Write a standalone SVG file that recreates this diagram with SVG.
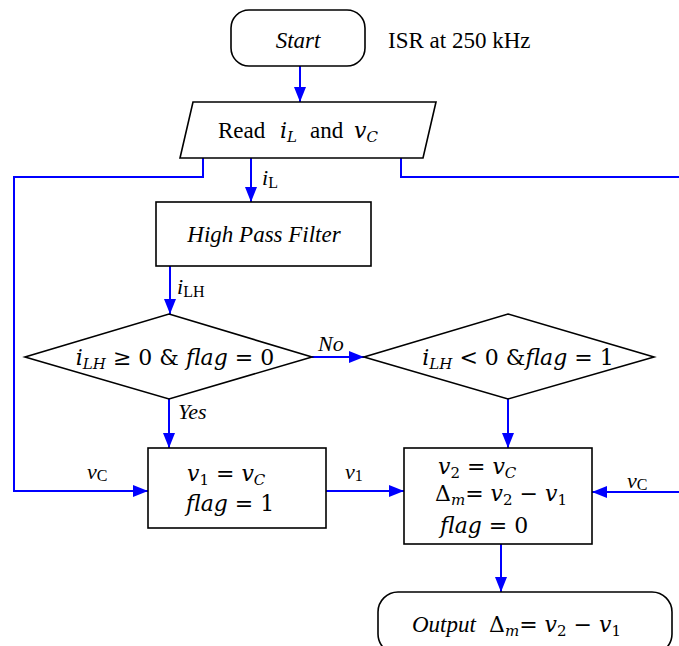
<svg xmlns="http://www.w3.org/2000/svg" width="679" height="646" viewBox="0 0 679 646">
<style>
.shape{fill:#fff;stroke:#000;stroke-width:1.6}
.conn{fill:none;stroke:#0000ff;stroke-width:2}
.t{font-family:"Liberation Serif","Times New Roman",serif;font-size:23px;fill:#000}
.it{font-style:italic}
.m{font-family:"DejaVu Serif","Liberation Serif",serif;font-size:22px;fill:#000}
.lb{font-family:"Liberation Serif","Times New Roman",serif;font-size:22px;fill:#000}
</style>
<defs>
<marker id="ah" markerUnits="userSpaceOnUse" markerWidth="15" markerHeight="12" refX="15" refY="6" orient="auto">
<path d="M0,0 L15,6 L0,12 z" fill="#0000ff"/>
</marker>
</defs>
<g id="connectors">
<path class="conn" d="M300,66 V102" marker-end="url(#ah)"/>
<path class="conn" d="M251,158 V202" marker-end="url(#ah)"/>
<path class="conn" d="M170,266 V314" marker-end="url(#ah)"/>
<path class="conn" d="M312,357 H364" marker-end="url(#ah)"/>
<path class="conn" d="M169,399 V448" marker-end="url(#ah)"/>
<path class="conn" d="M508,399 V448" marker-end="url(#ah)"/>
<path class="conn" d="M326,491 H404" marker-end="url(#ah)"/>
<path class="conn" d="M203,158 V177 H14 V491 H148" marker-end="url(#ah)"/>
<path class="conn" d="M401,158 V177 H690 V492 H592" marker-end="url(#ah)"/>
<path class="conn" d="M501,544 V592" marker-end="url(#ah)"/>
<text class="lb" x="262" y="185"><tspan class="it">i</tspan><tspan font-size="16" dy="3">L</tspan></text>
<text class="lb" x="177" y="294"><tspan class="it">i</tspan><tspan font-size="16" dy="3">LH</tspan></text>
<text class="lb it" x="318" y="351">No</text>
<text class="lb it" x="178" y="419">Yes</text>
<text class="lb" x="87" y="479"><tspan class="it">v</tspan><tspan font-size="16" dy="2">C</tspan></text>
<text class="lb" x="345" y="479"><tspan class="it">v</tspan><tspan font-size="16" dy="2">1</tspan></text>
<text class="lb" x="627" y="488"><tspan class="it">v</tspan><tspan font-size="16" dy="2">C</tspan></text>
</g>
<g id="start">
<rect class="shape" x="231" y="10" width="134" height="56" rx="18"/>
<text class="t it" x="298" y="48" text-anchor="middle">Start</text>
</g>
<text class="t" x="388" y="48">ISR at 250 kHz</text>
<g id="read">
<polygon class="shape" points="193,102 436,102 423,158 180,158"/>
<text class="t" x="218" y="138">Read</text>
<text class="m" x="280" y="138"><tspan font-style="italic">i</tspan><tspan font-style="italic" font-size="15" dy="4">L</tspan></text>
<text class="t" x="310" y="138">and</text>
<text class="m" x="354" y="138"><tspan font-style="italic">v</tspan><tspan font-style="italic" font-size="15" dy="4">C</tspan></text>
</g>
<g id="hpf">
<rect class="shape" x="156" y="202" width="215" height="64"/>
<text class="t it" x="264" y="242" text-anchor="middle">High Pass Filter</text>
</g>
<g id="cond1">
<polygon class="shape" points="169,314 312,357 169,399 25,357"/>
<text class="m" x="175" y="365" text-anchor="middle"><tspan font-style="italic">i</tspan><tspan font-style="italic" font-size="15" dy="4">LH</tspan><tspan dy="-4"> ≥ 0  &amp; </tspan><tspan font-style="italic">flag</tspan><tspan> = 0</tspan></text>
</g>
<g id="cond2">
<polygon class="shape" points="508,314 654,357 508,399 364,357"/>
<text class="m" x="518" y="365" text-anchor="middle"><tspan font-style="italic">i</tspan><tspan font-style="italic" font-size="15" dy="4">LH</tspan><tspan dy="-4"> &lt; 0  &amp;</tspan><tspan font-style="italic">flag</tspan><tspan> = 1</tspan></text>
</g>
<g id="set1">
<rect class="shape" x="148" y="448" width="178" height="80"/>
<text class="m" x="187" y="481"><tspan font-style="italic">v</tspan><tspan font-size="15" dy="4">1</tspan><tspan dy="-4"> = </tspan><tspan font-style="italic">v</tspan><tspan font-style="italic" font-size="15" dy="4">C</tspan></text>
<text class="m" x="186" y="511"><tspan font-style="italic">flag</tspan><tspan> = 1</tspan></text>
</g>
<g id="set2">
<rect class="shape" x="404" y="448" width="188" height="96"/>
<text class="m" x="438" y="474"><tspan font-style="italic">v</tspan><tspan font-size="15" dy="4">2</tspan><tspan dy="-4"> = </tspan><tspan font-style="italic">v</tspan><tspan font-style="italic" font-size="15" dy="4">C</tspan></text>
<text class="m" x="435" y="501"><tspan>Δ</tspan><tspan font-style="italic" font-size="15" dy="4">m</tspan><tspan dy="-4">= </tspan><tspan font-style="italic">v</tspan><tspan font-size="15" dy="4">2</tspan><tspan dy="-4"> − </tspan><tspan font-style="italic">v</tspan><tspan font-size="15" dy="4">1</tspan></text>
<text class="m" x="440" y="533"><tspan font-style="italic">flag</tspan><tspan> = 0</tspan></text>
</g>
<g id="output">
<rect class="shape" x="378" y="592" width="294" height="62" rx="20"/>
<text class="t it" x="412" y="632">Output</text>
<text class="m" x="489" y="632"><tspan>Δ</tspan><tspan font-style="italic" font-size="15" dy="4">m</tspan><tspan dy="-4">= </tspan><tspan font-style="italic">v</tspan><tspan font-size="15" dy="4">2</tspan><tspan dy="-4"> − </tspan><tspan font-style="italic">v</tspan><tspan font-size="15" dy="4">1</tspan></text>
</g>
</svg>
